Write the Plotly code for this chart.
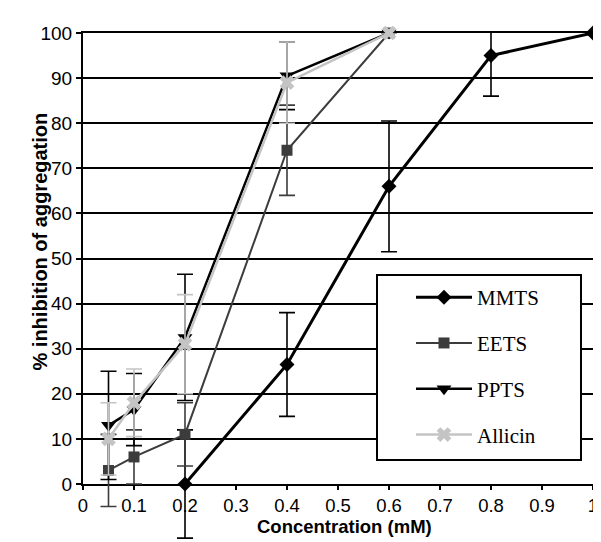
import plotly.graph_objects as go

# ---- data ----
mmts_x = [0.2, 0.4, 0.6, 0.8, 1.0]
mmts_y = [0, 26.5, 66, 95, 100]
mmts_err = [12, 11.5, 14.5, 9, 0]

eets_x = [0.05, 0.1, 0.2, 0.4, 0.6]
eets_y = [3, 6, 11, 74, 100]
eets_err = [8, 6, 7, 10, 0]

ppts_x = [0.05, 0.1, 0.2, 0.4, 0.6]
ppts_y = [13, 16.5, 32.5, 90.5, 100]
ppts_err = [12, 8, 14, 7.5, 0]

allicin_x = [0.05, 0.1, 0.2, 0.4, 0.6]
allicin_y = [10, 18, 31, 89, 100]
allicin_err = [8, 7.5, 11, 9, 0]

x_ticks = [0, 0.1, 0.2, 0.3, 0.4, 0.5, 0.6, 0.7, 0.8, 0.9, 1]
x_ticklabels = ["0", "0.1", "0.2", "0.3", "0.4", "0.5", "0.6", "0.7", "0.8", "0.9", "1"]
y_ticks = [0, 10, 20, 30, 40, 50, 60, 70, 80, 90, 100]

# layout geometry: targets are given in page pixels; the page body adds an 8px offset
OFF = 8
W, H = 601 - OFF, 542 - OFF
LEFT_PX, RIGHT_PX, TOP_PX, Y0_PX = 83, 593, 33, 484   # page pixels
ML = LEFT_PX - OFF
MT = TOP_PX - OFF
MR = W - (RIGHT_PX - OFF)
paper_h = H - MT
paper_w = W - ML - MR
y_dom0 = (H - (Y0_PX - OFF)) / paper_h
px_per_unit = (Y0_PX - TOP_PX) / 100.0
y2_min = -(H - (Y0_PX - OFF)) / px_per_unit

def px_x(p):
    return (p - OFF - ML) / paper_w

def px_y(p):
    return (H - (p - OFF)) / paper_h

fig = go.Figure()

# invisible anchor trace so the main axes exist
fig.add_trace(go.Scatter(x=[None], y=[None], showlegend=False, hoverinfo="skip",
                         xaxis="x", yaxis="y"))

def add(name, xs, ys, err, color, lw, symbol, msize):
    fig.add_trace(go.Scatter(
        x=xs, y=ys, name=name, mode="lines+markers",
        line=dict(color=color, width=lw),
        marker=dict(symbol=symbol, size=msize, color=color),
        error_y=dict(type="data", array=err, visible=True, color=color,
                     thickness=1.6, width=8),
        cliponaxis=False, legendgroup=name,
        xaxis="x2", yaxis="y2",
    ))

add("MMTS", mmts_x, mmts_y, mmts_err, "#000000", 3, "diamond", 11.5)
add("EETS", eets_x, eets_y, eets_err, "#3c3c3c", 2, "square", 11)
add("PPTS", ppts_x, ppts_y, ppts_err, "#000000", 2.5, "triangle-down", 13)
add("Allicin", allicin_x, allicin_y, allicin_err, "#c4c4c4", 2.5, "x", 13)

# legend frame
fig.add_shape(type="rect", xref="paper", yref="paper",
              x0=px_x(377), x1=px_x(581), y0=px_y(460), y1=px_y(275),
              line=dict(color="black", width=2), fillcolor="white", layer="above")

sans = "Liberation Sans, Arial, sans-serif"
axis_font = dict(family=sans, size=18.5, color="black")

fig.add_annotation(text="<b>% inhibition of aggregation</b>", xref="paper", yref="paper",
                   x=px_x(39.5), y=px_y(242), textangle=-90, showarrow=False,
                   xanchor="center", yanchor="middle",
                   font=dict(family=sans, size=20, color="black"))
fig.add_annotation(text="<b>Concentration (mM)</b>", xref="paper", yref="paper",
                   x=px_x(344), y=px_y(526.5), showarrow=False,
                   xanchor="center", yanchor="middle",
                   font=dict(family=sans, size=18.5, color="black"))

fig.update_layout(
    width=W, height=H,
    margin=dict(l=ML, r=MR, t=MT, b=0, autoexpand=False),
    paper_bgcolor="white", plot_bgcolor="rgba(0,0,0,0)",
    showlegend=True,
    legend=dict(x=px_x(411), y=px_y(277), xanchor="left", yanchor="top",
                bgcolor="rgba(0,0,0,0)", borderwidth=0, itemwidth=56,
                font=dict(family="Liberation Serif, Times New Roman, serif", size=21, color="black"),
                tracegroupgap=15.5),
    xaxis=dict(range=[0, 1], tickvals=x_ticks, ticktext=x_ticklabels, domain=[0, 1],
               anchor="y", automargin=False,
               showgrid=False, zeroline=False,
               showline=True, linecolor="black", linewidth=2, mirror=True,
               ticks="outside", ticklen=4, tickwidth=1.5, tickcolor="black",
               tickfont=axis_font),
    yaxis=dict(range=[0, 100], tickvals=y_ticks, domain=[y_dom0, 1], anchor="x",
               automargin=False,
               showgrid=True, gridcolor="black", gridwidth=2, zeroline=False,
               showline=True, linecolor="black", linewidth=2, mirror=True,
               ticks="outside", ticklen=5, tickwidth=1.5, tickcolor="black",
               tickfont=dict(family=sans, size=19, color="black")),
    xaxis2=dict(range=[0, 1], domain=[0, 1], anchor="y2", visible=False, showgrid=False),
    yaxis2=dict(range=[y2_min, 100], domain=[0, 1], anchor="x2", visible=False, showgrid=False),
)

fig.write_html("out.html")
